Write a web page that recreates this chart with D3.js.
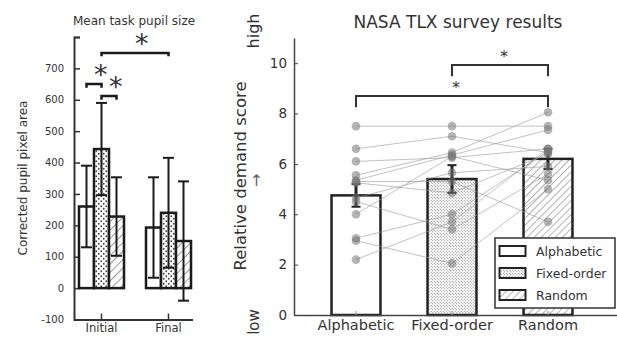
<!DOCTYPE html>
<html>
<head>
<meta charset="utf-8">
<script src="https://cdn.jsdelivr.net/npm/d3@7"></script>
<style>
  body { margin: 0; background: #fff; }
  svg { display: block; font-family: "DejaVu Sans", sans-serif; }
  text { fill: #333; }
</style>
</head>
<body>
<script>
// ---- data ----
var conditions = ["Alphabetic", "Fixed-order", "Random"];
var phases = ["Initial", "Final"];

// left panel: pupil area, per phase x condition
var pupilMean = [[260, 443, 228], [193, 240, 150]];
var pupilErr = [[130, 147, 125], [160, 175, 190]];
var pupilTicks = [-100, 0, 100, 200, 300, 400, 500, 600, 700, 800];
var pupilBrackets = [
  {from: [0, 0], to: [0, 1], level: 650, drop: 12},
  {from: [0, 1], to: [0, 2], level: 612, drop: 12},
  {from: [0, 1], to: [1, 1], level: 749, drop: 10}
];

// right panel: NASA TLX
var tlxMean = [4.75, 5.4, 6.2];
var tlxErr = [0.45, 0.55, 0.4];
var tlxAlpha = [7.5, 6.6, 6.1, 5.55, 5.35, 5.25, 4.65, 4.5, 4.0, 3.05, 2.95, 2.2, 5.3];
var tlxFixed = [7.5, 7.1, 6.25, 6.45, 6.35, 4.85, 5.65, 3.4, 6.3, 4.0, 2.05, 3.7, 5.3];
var tlxRandom = [7.5, 6.45, 6.6, 8.05, 7.35, 6.4, 5.9, 5.6, 5.35, 6.5, 5.0, 6.6, 3.7];
var tlxTicks = [0, 2, 4, 6, 8, 10];
var tlxBrackets = [
  {from: 0, to: 2, level: 8.7, drop: 0.45},
  {from: 1, to: 2, level: 9.93, drop: 0.45}
];

var width = 617, height = 338;
var svg = d3.select("body").append("svg")
    .attr("width", width)
    .attr("height", height);

// patterns
var defs = svg.append("defs");
function dots(id, step, r, col) {
  var p = defs.append("pattern").attr("id", id)
      .attr("patternUnits", "userSpaceOnUse")
      .attr("width", step).attr("height", step);
  p.append("rect").attr("width", step).attr("height", step).attr("fill", "#fff");
  p.append("circle").attr("cx", step / 4).attr("cy", step / 4).attr("r", r).attr("fill", col);
  p.append("circle").attr("cx", step * 3 / 4).attr("cy", step * 3 / 4).attr("r", r).attr("fill", col);
}
function hatch(id, step, w, col) {
  var p = defs.append("pattern").attr("id", id)
      .attr("patternUnits", "userSpaceOnUse")
      .attr("width", step).attr("height", step)
      .attr("patternTransform", "rotate(45)");
  p.append("rect").attr("width", step).attr("height", step).attr("fill", "#fff");
  p.append("line").attr("x1", 0).attr("y1", 0).attr("x2", 0).attr("y2", step)
      .attr("stroke", col).attr("stroke-width", w);
}
dots("dotL", 5, 0.9, "#444");
hatch("hatchL", 6, 1.2, "#555");
dots("dotR", 3, 0.55, "#777");
hatch("hatchR", 5, 1, "#666");
var fillL = ["#fff", "url(#dotL)", "url(#hatchL)"];
var fillR = ["#fff", "url(#dotR)", "url(#hatchR)"];

// ================= left panel =================
var yL = d3.scaleLinear().domain([-100, 800]).range([319.5, 37]);
var x0 = d3.scaleBand().domain(phases).range([68, 202]);
var x1 = d3.scaleBand().domain(conditions).range([11, 56]);
var L = svg.append("g");

function xLc(pi, ci) { return x0(phases[pi]) + x1(conditions[ci]) + x1.bandwidth() / 2; }

L.append("text").attr("x", 134).attr("y", 25).attr("text-anchor", "middle")
    .attr("font-size", 12).text("Mean task pupil size");

var yAxisL = d3.axisLeft(yL).tickValues(pupilTicks).tickSize(-6).tickPadding(10)
    .tickFormat(function(d) { return d === 800 ? "" : d; });
var gyl = L.append("g").attr("transform", "translate(74,0)").call(yAxisL);
gyl.select(".domain").attr("stroke", "#333").attr("stroke-width", 2);
gyl.selectAll(".tick line").attr("stroke", "#333").attr("stroke-width", 1.5);
gyl.selectAll(".tick text").attr("font-size", 10).attr("fill", "#333")
    .attr("font-family", "DejaVu Sans");

var xAxisL = d3.axisBottom(x0).tickSize(-6).tickPadding(10).tickSizeOuter(0);
var gxl = L.append("g").attr("transform", "translate(0,319.5)").call(xAxisL);
gxl.select(".domain").attr("d", "M74,0.5H193").attr("stroke", "#333").attr("stroke-width", 2);
gxl.selectAll(".tick line").attr("stroke", "#333").attr("stroke-width", 1.5);
gxl.selectAll(".tick text").attr("font-size", 11.5).attr("fill", "#333")
    .attr("font-family", "DejaVu Sans").attr("dy", "0.2em");

L.append("text").attr("transform", "translate(27,178) rotate(-90)")
    .attr("text-anchor", "middle").attr("font-size", 12).text("Corrected pupil pixel area");

phases.forEach(function(ph, pi) {
  conditions.forEach(function(c, ci) {
    var v = pupilMean[pi][ci];
    L.append("rect")
        .attr("x", x0(ph) + x1(c))
        .attr("y", yL(v))
        .attr("width", x1.bandwidth())
        .attr("height", yL(0) - yL(v))
        .attr("fill", fillL[ci])
        .attr("stroke", "#1a1a1a").attr("stroke-width", 2.5);
  });
});
phases.forEach(function(ph, pi) {
  conditions.forEach(function(c, ci) {
    var cx = xLc(pi, ci), m = pupilMean[pi][ci], e = pupilErr[pi][ci];
    var g = L.append("g").attr("stroke", "#1a1a1a").attr("stroke-width", 2);
    g.append("line").attr("x1", cx).attr("x2", cx).attr("y1", yL(m - e)).attr("y2", yL(m + e));
    [m - e, m + e].forEach(function(v) {
      g.append("line").attr("x1", cx - 5.5).attr("x2", cx + 5.5).attr("y1", yL(v)).attr("y2", yL(v));
    });
  });
});
pupilBrackets.forEach(function(b) {
  var xa = xLc(b.from[0], b.from[1]), xb = xLc(b.to[0], b.to[1]);
  L.append("path")
      .attr("d", "M" + xa + "," + yL(b.level - b.drop) + "V" + yL(b.level) +
            "H" + xb + "V" + yL(b.level - b.drop))
      .attr("fill", "none").attr("stroke", "#1a1a1a").attr("stroke-width", 2.5);
  L.append("text").attr("x", (xa + xb) / 2).attr("y", yL(b.level))
      .attr("font-size", 27).text("*");
});

// ================= right panel =================
var yR = d3.scaleLinear().domain([0, 11]).range([315, 38]);
var xR = d3.scaleBand().domain(conditions).range([308, 596])
    .paddingInner(0.49).paddingOuter(0.245);
var R = svg.append("g");
function xRc(ci) { return xR(conditions[ci]) + xR.bandwidth() / 2; }

R.append("text").attr("x", 458).attr("y", 28).attr("text-anchor", "middle")
    .attr("font-size", 17).text("NASA TLX survey results");

// bars first, participant lines and dots on top
conditions.forEach(function(c, ci) {
  R.append("rect")
      .attr("x", xR(c)).attr("y", yR(tlxMean[ci]))
      .attr("width", xR.bandwidth()).attr("height", yR(0) - yR(tlxMean[ci]))
      .attr("fill", fillR[ci])
      .attr("stroke", "#222").attr("stroke-width", 2.5);
});

var people = tlxAlpha.map(function(a, i) { return [a, tlxFixed[i], tlxRandom[i]]; });
var line = d3.line().x(function(d, i) { return xRc(i); }).y(function(d) { return yR(d); });
R.append("g").selectAll("path").data(people).enter().append("path")
    .attr("d", line).attr("fill", "none")
    .attr("stroke", "#999").attr("stroke-opacity", 0.6).attr("stroke-width", 1);

conditions.forEach(function(c, ci) {
  var m = tlxMean[ci], e = tlxErr[ci], cx = xRc(ci);
  var g = R.append("g").attr("stroke", "#222").attr("stroke-width", 3);
  g.append("line").attr("x1", cx).attr("x2", cx).attr("y1", yR(m - e)).attr("y2", yR(m + e));
  [m - e, m + e].forEach(function(v) {
    g.append("line").attr("x1", cx - 4.5).attr("x2", cx + 4.5).attr("y1", yR(v)).attr("y2", yR(v))
        .attr("stroke-width", 2);
  });
});

R.append("g").selectAll("g").data(people).enter().append("g")
  .selectAll("circle").data(function(d) { return d; }).enter().append("circle")
    .attr("cx", function(d, i) { return xRc(i); })
    .attr("cy", function(d) { return yR(d); })
    .attr("r", 4.3)
    .attr("fill", "#777").attr("fill-opacity", 0.55);

var yAxisR = d3.axisLeft(yR).tickValues(tlxTicks).tickSize(-4).tickPadding(7).tickSizeOuter(0);
var gyr = R.append("g").attr("transform", "translate(294,0)").call(yAxisR);
gyr.select(".domain").attr("stroke", "#444").attr("stroke-width", 1.5);
gyr.selectAll(".tick line").attr("stroke", "#444");
gyr.selectAll(".tick text").attr("font-size", 13.5).attr("fill", "#333")
    .attr("font-family", "DejaVu Sans");

var xAxisR = d3.axisBottom(xR).tickSize(-4).tickPadding(8).tickSizeOuter(0);
var gxr = R.append("g").attr("transform", "translate(0,315)").call(xAxisR);
gxr.select(".domain").attr("d", "M294,0.5H617").attr("stroke", "#444").attr("stroke-width", 1.5);
gxr.selectAll(".tick line").attr("stroke", "#999");
gxr.selectAll(".tick text").attr("font-size", 14.5).attr("fill", "#333")
    .attr("font-family", "DejaVu Sans").attr("dy", "0.5em");

R.append("text").attr("transform", "translate(246,176) rotate(-90)")
    .attr("text-anchor", "middle").attr("font-size", 16.5).text("Relative demand score");
R.append("text").attr("transform", "translate(259,31) rotate(-90)")
    .attr("text-anchor", "middle").attr("font-size", 16).text("high");
R.append("text").attr("transform", "translate(259,322) rotate(-90)")
    .attr("text-anchor", "middle").attr("font-size", 15).text("low");
R.append("text").attr("x", 256.5).attr("y", 186).attr("text-anchor", "middle")
    .attr("font-size", 16).style("fill", "#666").text("\u2191");

tlxBrackets.forEach(function(b) {
  var xa = xRc(b.from), xb = xRc(b.to);
  R.append("path")
      .attr("d", "M" + xa + "," + yR(b.level - b.drop) + "V" + yR(b.level) +
            "H" + xb + "V" + yR(b.level - b.drop))
      .attr("fill", "none").attr("stroke", "#333").attr("stroke-width", 2);
  R.append("text").attr("x", (xa + xb) / 2).attr("y", yR(b.level) - 3)
      .attr("font-size", 16).text("*");
});

// legend
var lg = R.append("g").attr("transform", "translate(495,238)");
lg.append("rect").attr("width", 120).attr("height", 70)
    .attr("fill", "#fff").attr("stroke", "#333").attr("stroke-width", 1.5);
conditions.forEach(function(c, ci) {
  var yy = 13 + ci * 22;
  lg.append("rect").attr("x", 4.5).attr("y", yy - 5).attr("width", 26).attr("height", 10)
      .attr("fill", fillR[ci]).attr("stroke", "#222").attr("stroke-width", 2);
  lg.append("text").attr("x", 41).attr("y", yy + 4.5).attr("font-size", 12.5).text(c);
});
</script>
</body>
</html>
